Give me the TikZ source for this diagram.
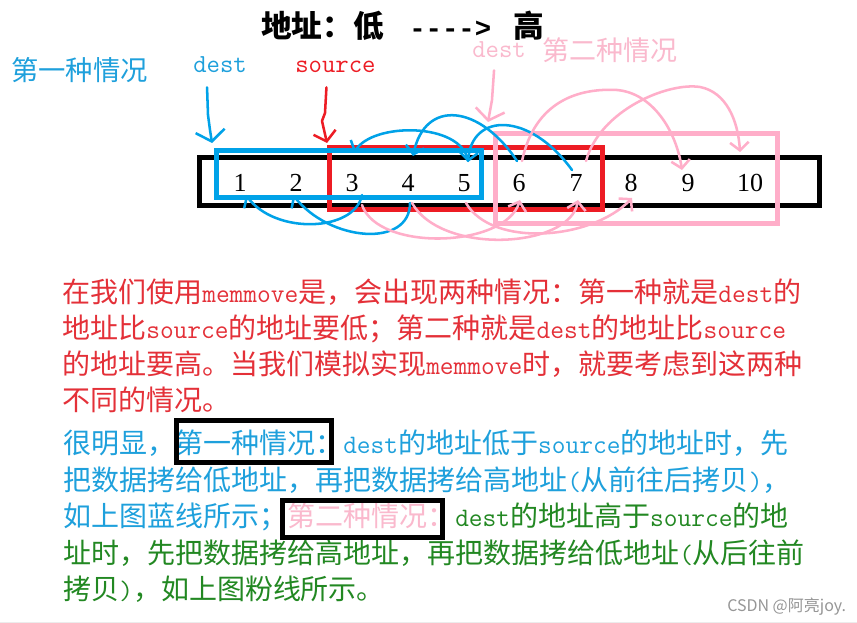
\documentclass[tikz,border=0pt]{standalone}
\usepackage{fontspec}
\newfontfamily\cjk{Noto Sans CJK SC}
\newfontfamily\numfont{Liberation Serif}
\newfontfamily\monof{Liberation Mono}
\usetikzlibrary{arrows.meta}
\definecolor{cred}{RGB}{237,28,36}
\definecolor{cblue}{RGB}{0,162,232}
\definecolor{cpink}{RGB}{255,174,201}
\definecolor{tred}{RGB}{228,48,56}
\definecolor{tblue}{RGB}{30,160,220}
\definecolor{tgreen}{RGB}{34,136,34}
\definecolor{tpink}{RGB}{250,185,205}
\definecolor{wgray}{RGB}{150,150,150}
\newcommand\tw[1]{{\ttfamily\fontsize{20pt}{20pt}\selectfont #1}}
\begin{document}
\begin{tikzpicture}[x=0.75pt,y=-0.75pt,
  frame/.style={draw, line width=3.75pt},
  body/.style={anchor=base west, inner sep=0pt, font=\cjk\fontsize{21pt}{21pt}\selectfont},
  label/.style={anchor=base west, inner sep=0pt, font=\cjk\fontsize{20.5pt}{20.5pt}\selectfont},
  ttlabel/.style={anchor=base west, inner sep=0pt, font=\ttfamily\fontsize{19.5pt}{19.5pt}\selectfont},
  num/.style={inner sep=0pt, font=\numfont\fontsize{19.5pt}{19.5pt}\selectfont},
  hand/.style={line width=1.9pt, line cap=round, line join=round},
  tip/.style={-{Straight Barb[length=6pt,width=14pt]}},
  bigtip/.style={-{Straight Barb[length=8pt,width=22pt]}},
  redtip/.style={-{Straight Barb[length=7pt,width=17pt]}}
]
\useasboundingbox (0,0) rectangle (857,623);
\fill[white] (0,0) rectangle (857,623);
\draw[gray!15, line width=0.75pt] (0,622) -- (857,622);

% title
\node[anchor=base west, inner sep=0pt, font=\cjk\bfseries\fontsize{23pt}{23pt}\selectfont] (t1) at (261,38) {地址：低};
\node[anchor=base west, inner sep=0pt, font=\monof\bfseries\fontsize{20.5pt}{20.5pt}\selectfont] (t2) at (409,38) {---->};
\node[anchor=base west, inner sep=0pt, font=\cjk\bfseries\fontsize{23pt}{23pt}\selectfont] (t3) at (513,38) {高};

% labels
\node[label, text=tblue] (case1) at (11,81) {第一种情况};
\node[ttlabel, text=tblue] (destA) at (193,73) {dest};
\node[ttlabel, text=cred] (srcA) at (295,73) {source};
\node[ttlabel, text=tpink] (destB) at (472,58) {dest};
\node[label, text=tpink, font=\cjk\fontsize{20.25pt}{20.25pt}\selectfont] (case2) at (542,61) {第二种情况};

% boxes
\draw[frame, black] (199.5,157.5) rectangle (819.5,205.5);
\draw[frame, cred] (329.5,147.5) rectangle (602.5,209.5);
\draw[frame, cblue] (216,150.5) rectangle (481,197.5);
\draw[frame, cpink] (495.5,133.5) rectangle (777.5,223.5);

% numbers
\node[num] (n1) at (240,183) {1};
\node[num] (n2) at (296,183) {2};
\node[num] (n3) at (352,183) {3};
\node[num] (n4) at (408,183) {4};
\node[num] (n5) at (464,183) {5};
\node[num] (n6) at (519,183) {6};
\node[num] (n7) at (576,183) {7};
\node[num] (n8) at (631,183) {8};
\node[num] (n9) at (688,183) {9};
\node[num] (n10) at (750,183) {10};

% pointer arrows
\coordinate (pA) at (212,143);
\coordinate (pS) at (327,143);
\coordinate (pB) at (488,122);
\draw[hand, cblue, bigtip] ([shift={(-13,14)}]destA.south) -- (208,115) -- (210,130) -- (pA);
\draw[hand, cred, redtip] ([shift={(-9,14)}]srcA.south) -- (325,113) -- (322,121) -- (pS);
\draw[hand, cpink, bigtip] ([shift={(-5,12)}]destB.south) -- (492,100) -- (pB);

% blue copies (front to back)
\draw[hand, cblue, tip] ([shift={(10,12)}]n3.center) .. controls (355,232) and (275,235) .. ([shift={(6,12)}]n1.center);
\draw[hand, cblue, tip] ([shift={(2,20)}]n4.center) .. controls (410,248) and (330,242) .. ([shift={(-3,12)}]n2.center);
\draw[hand, cblue, tip] ([shift={(4,-22)}]n5.center) .. controls (462,122) and (372,122) .. ([shift={(2,-30)}]n3.center);
\draw[hand, cblue, tip] ([shift={(-2,-22)}]n6.center) .. controls (480,105) and (425,98) .. ([shift={(5,-27)}]n4.center);
\draw[hand, cblue, tip] ([shift={(-4,-13)}]n7.center) .. controls (530,112) and (472,112) .. ([shift={(4,-21)}]n5.center);

% pink copies (back to front)
\draw[hand, cpink, tip] ([shift={(10,-22)}]n7.center) .. controls (600,110) and (668,82) .. (700,87) .. controls (726,92) and (738,120) .. ([shift={(-10,-31)}]n10.center);
\draw[hand, cpink, tip] ([shift={(3,-22)}]n6.center) .. controls (535,100) and (580,88) .. (617,90) .. controls (652,93) and (676,130) .. ([shift={(-6,-13)}]n9.center);
\draw[hand, cpink, tip] ([shift={(10,22)}]n3.center) .. controls (378,252) and (505,248) .. ([shift={(1,17)}]n6.center);
\draw[hand, cpink, tip] ([shift={(4,20)}]n4.center) .. controls (442,256) and (570,248) .. ([shift={(2,17)}]n7.center);
\draw[hand, cpink, tip] ([shift={(2,20)}]n5.center) .. controls (492,248) and (592,240) .. ([shift={(1,15)}]n8.center);

% red paragraph
\node[body, text=tred] (r1) at (62,303) {在我们使用\tw{memmove}是，会出现两种情况：第一种就是\tw{dest}的};
\node[body, text=tred] (r2) at (62,339) {地址比\tw{source}的地址要低；第二种就是\tw{dest}的地址比\tw{source}};
\node[body, text=tred] (r3) at (62,375) {的地址要高。当我们模拟实现\tw{memmove}时，就要考虑到这两种};
\node[body, text=tred] (r4) at (62,411) {不同的情况。};

% blue / green paragraph
\node[body, text=tblue] (b1) at (63,454) {很明显，第一种情况：\tw{dest}的地址低于\tw{source}的地址时，先};
\node[body, text=tblue] (b2) at (63,490) {把数据拷给低地址，再把数据拷给高地址\tw{(}从前往后拷贝\tw{)}，};
\node[body, text=tblue] (b3) at (63,527) {如上图蓝线所示；\textcolor{tpink}{第二种情况：}\textcolor{tgreen}{\tw{dest}的地址高于\tw{source}的地}};
\node[body, text=tgreen] (g4) at (63,563) {址时，先把数据拷给高地址，再把数据拷给低地址\tw{(}从后往前};
\node[body, text=tgreen] (g5) at (63,599) {拷贝\tw{)}，如上图粉线所示。};

% highlight frames
\draw[frame, black] (176.5,420.5) rectangle (331.5,462.5);
\draw[frame, black] (282.5,500.5) rectangle (442.5,537.5);

% watermark
\node[anchor=base west, inner sep=0pt, text=wgray, font=\cjk\fontsize{12pt}{12pt}\selectfont] (wm) at (727,611) {CSDN @阿亮joy.};
\end{tikzpicture}
\end{document}
